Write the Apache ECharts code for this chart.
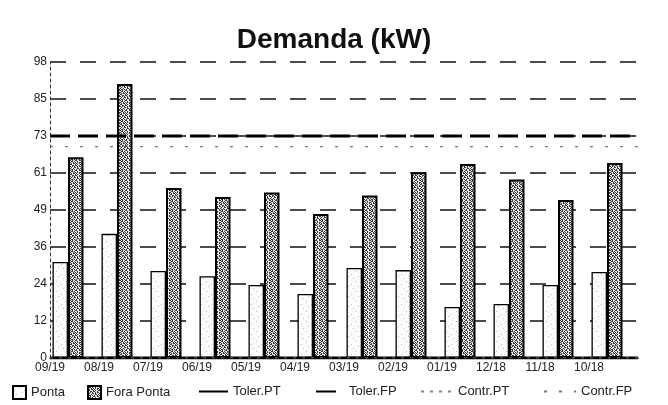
<!DOCTYPE html>
<html>
<head>
<meta charset="utf-8">
<title>Demanda (kW)</title>
<script src="https://cdn.jsdelivr.net/npm/echarts@6/dist/echarts.min.js"></script>
<style>
  html, body { margin: 0; padding: 0; background: #fff; }
  #chart { width: 668px; height: 405px; }
</style>
</head>
<body>
<div id="chart"></div>
<script>
// Months (most recent first)
const months = ['09/19', '08/19', '07/19', '06/19', '05/19', '04/19', '03/19', '02/19', '01/19', '12/18', '11/18', '10/18'];

// Measured demand, kW
const ponta      = [31.8, 41.1, 28.8, 27.1, 24.2, 21.2, 29.8, 29.1, 16.9, 17.9, 24.2, 28.5];
const foraPonta  = [66.5, 90.7, 56.3, 53.3, 54.8, 47.7, 53.8, 61.5, 64.2, 59.1, 52.3, 64.6];

// Contracted demand and tolerance, kW
const tolerPT = [0, 0, 0, 0, 0, 0, 0, 0, 0, 0, 0, 0];
const tolerFP = [73.5, 73.5, 73.5, 73.5, 73.5, 73.5, 73.5, 73.5, 73.5, 73.5, 73.5, 73.5];
const contrPT = [0, 0, 0, 0, 0, 0, 0, 0, 0, 0, 0, 0];
const contrFP = [70, 70, 70, 70, 70, 70, 70, 70, 70, 70, 70, 70];

// Value axis: 8 steps of 12.25 kW, labels truncated to integers
const yMax = 98;
const yStep = 12.25;

const FONT = '"Liberation Sans", Arial, sans-serif';

// Small stipple tiles used as bar fills
function stipple(rows, dark, light) {
  const c = document.createElement('canvas');
  c.width = rows[0].length;
  c.height = rows.length;
  const ctx = c.getContext('2d');
  ctx.fillStyle = light;
  ctx.fillRect(0, 0, c.width, c.height);
  ctx.fillStyle = dark;
  rows.forEach((row, y) => {
    for (let x = 0; x < row.length; x++) {
      if (row[x] === 'x') ctx.fillRect(x, y, 1, 1);
    }
  });
  return { image: c, repeat: 'repeat' };
}

const pontaFill = stipple([
  '..........',
  '......x...',
  '..........',
  '..........',
  '.x........',
  '..........',
  '........x.',
  '..........',
  '...x......',
  '..........'
], '#bdbdbd', '#fbfbfb');

const foraFill = stipple([
  'x.x..xx..x',
  '.xx.x..x..',
  'x..x.x.x.x',
  '.x.xx.x..x',
  'xx...x.x..',
  '..xx.xx..x',
  'x.x.x..x.x',
  '.x..xx.x..',
  'x..x...xx.',
  '.xx.x.x..x'
], '#3a3a3a', '#e8e8e8');

const chart = echarts.init(document.getElementById('chart'), null, { renderer: 'canvas' });

function legendAt(name, left, w, h, isLine) {
  const lg = {
    data: [name],
    left: left,
    top: 385,
    itemWidth: w,
    itemHeight: h,
    padding: 0,
    selectedMode: false,
    textStyle: { fontFamily: FONT, fontSize: 13, color: '#222' }
  };
  if (isLine) lg.itemStyle = { opacity: 0 };
  else lg.icon = 'rect';
  return lg;
}

chart.setOption({
  animation: false,
  backgroundColor: '#fff',
  title: {
    text: 'Demanda (kW)',
    left: 'center',
    top: 21,
    textStyle: { fontFamily: FONT, fontSize: 28, fontWeight: 'bold', color: '#111' }
  },
  legend: [
    legendAt('Ponta', 12, 13, 13, false),
    legendAt('Fora Ponta', 87, 13, 13, false),
    legendAt('Toler.PT', 198, 29, 13, true),
    legendAt('Toler.FP', 315, 28, 13, true),
    legendAt('Contr.PT', 420, 32, 13, true),
    legendAt('Contr.FP', 543, 32, 13, true)
  ],
  grid: { left: 50, right: 30, top: 62, bottom: 47 },
  xAxis: [
    {
      type: 'category',
      data: months,
      boundaryGap: true,
      axisLine: { lineStyle: { color: '#000', width: 1.5 } },
      axisTick: { show: false },
      axisLabel: {
        fontFamily: FONT, fontSize: 12, color: '#222',
        margin: 4,
        padding: [0, 49, 0, 0]
      },
      splitLine: { show: false }
    },
    {
      // edge-to-edge axis for the reference lines
      type: 'category',
      data: months,
      boundaryGap: false,
      show: false
    }
  ],
  yAxis: {
    type: 'value',
    min: 0,
    max: yMax,
    interval: yStep,
    axisLine: { show: true, lineStyle: { color: '#333', width: 1, type: [3, 3] } },
    axisTick: { show: false },
    axisLabel: {
      fontFamily: FONT, fontSize: 12, color: '#222', margin: 3,
      formatter: v => String(Math.floor(v))
    },
    splitLine: { show: true, lineStyle: { color: '#111', width: 1.6, type: [16, 14] } }
  },
  series: [
    {
      name: 'Ponta',
      type: 'bar',
      data: ponta,
      barWidth: 15.5,
      barGap: '0%',
      itemStyle: { color: pontaFill, borderColor: '#000', borderWidth: 1.3 }
    },
    {
      name: 'Fora Ponta',
      type: 'bar',
      data: foraPonta,
      barWidth: 15.5,
      barGap: '0%',
      itemStyle: { color: foraFill, borderColor: '#000', borderWidth: 2 }
    },
    {
      // empty slot that keeps each pair at the left of its month
      name: 'gap',
      type: 'bar',
      data: months.map(() => null),
      barWidth: 13,
      barGap: '0%',
      itemStyle: { color: 'rgba(0,0,0,0)' }
    },
    {
      name: 'Toler.PT',
      type: 'line',
      xAxisIndex: 1,
      data: tolerPT,
      symbol: 'none',
      lineStyle: { color: '#000', width: 3 },
      itemStyle: { color: '#000' }
    },
    {
      name: 'Toler.FP',
      type: 'line',
      xAxisIndex: 1,
      data: tolerFP,
      symbol: 'none',
      lineStyle: { color: '#000', width: 3, type: [20, 8] },
      itemStyle: { color: '#000' }
    },
    {
      name: 'Contr.PT',
      type: 'line',
      xAxisIndex: 1,
      data: contrPT,
      symbol: 'none',
      lineStyle: { color: '#888', width: 1.2, type: [3, 6] },
      itemStyle: { color: '#888' }
    },
    {
      name: 'Contr.FP',
      type: 'line',
      xAxisIndex: 1,
      data: contrFP,
      symbol: 'none',
      lineStyle: { color: '#777', width: 1.2, type: [3, 12] },
      itemStyle: { color: '#777' }
    }
  ]
});
</script>
</body>
</html>
